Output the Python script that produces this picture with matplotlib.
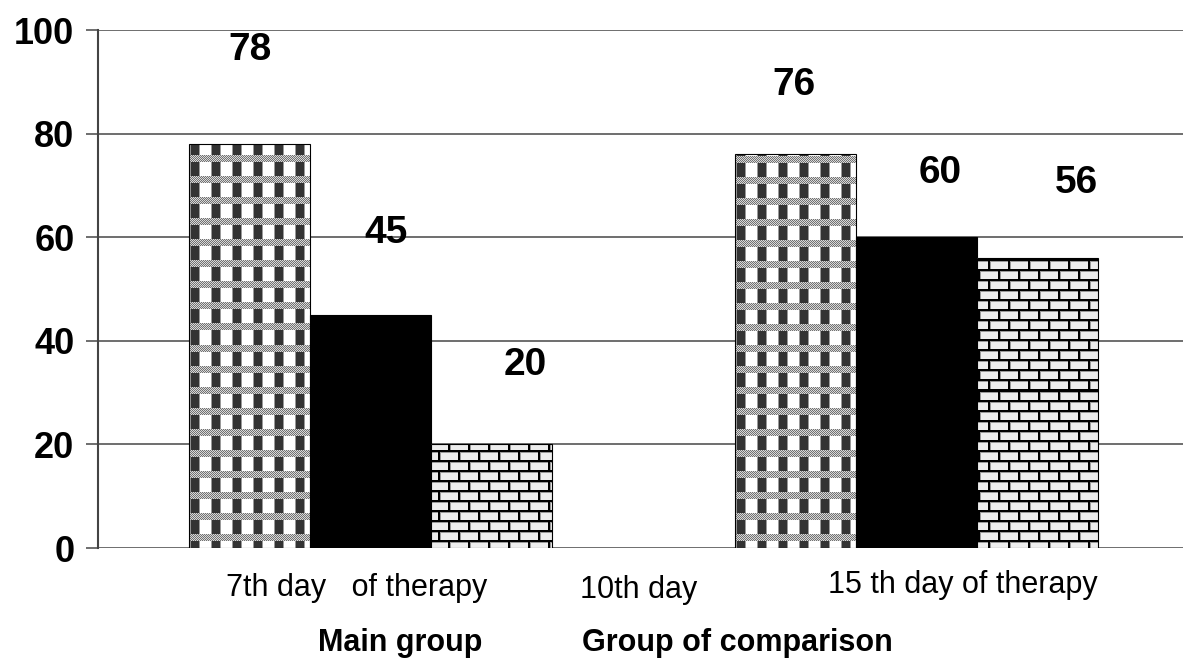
import numpy as np
import matplotlib
matplotlib.use("Agg")
import matplotlib.pyplot as plt

# data
grupos = ["Main group", "Group of comparison"]
dia7 = [78, 76]
dia10 = [45, 60]
dia15 = [20, 56]
etiquetas_x = ["7th day   of therapy", "10th day", "15 th day of therapy"]
yticks = [0, 20, 40, 60, 80, 100]

plt.rcParams["font.family"] = ["Liberation Sans", "DejaVu Sans"]

W, H = 1183, 661
fig = plt.figure(figsize=(W / 100, H / 100), dpi=100)
ax = fig.add_axes([98 / W, 1 - 548 / H, 1 - 98 / W, (548 - 30) / H])

xlim = (-0.5, 1.488)
ylim = (0, 100)
ax.set_xlim(*xlim)
ax.set_ylim(*ylim)

# texturas (en pixeles del eje)
aw, ah = int(W - 98), 548 - 30


def textura_cuadros(h, w):
    img = np.ones((h, w, 3))
    yy, xx = np.mgrid[0:h, 0:w]
    banda = (yy % 21) < 7
    dither = ((yy + xx) % 2 == 0)
    img[banda & dither] = 0.45
    img[banda & ~dither] = 0.85
    oscuro = (~banda) & ((xx % 21) >= 9) & ((xx % 21) < 17)
    img[oscuro] = 0.2
    borde = (~banda) & (((xx % 21) == 8) | ((xx % 21) == 17))
    img[borde] = 0.6
    return img


def textura_ladrillo(h, w):
    img = np.full((h, w, 3), 0.93)
    yy, xx = np.mgrid[0:h, 0:w]
    fila = yy // 10
    junta_h = (yy % 10) < 2
    desplaz = np.where(fila % 2 == 0, 0, 10)
    junta_v = ((xx + desplaz) % 20) < 2
    img[junta_h | junta_v] = 0.0
    borde = ((yy % 10) == 2) | (((xx + desplaz) % 20) == 2)
    img[borde & ~(junta_h | junta_v)] = 0.6
    return img


tex1 = textura_cuadros(ah, aw)
tex3 = textura_ladrillo(ah, aw)

x = np.arange(len(grupos))
ancho = 0.2216
series = [dia7, dia10, dia15]
offs = [-ancho, 0, ancho]

ax.yaxis.grid(True, color="#555555", linewidth=1.2, zorder=0)
ax.set_axisbelow(True)

for i, (vals, dx) in enumerate(zip(series, offs)):
    if i == 1:
        ax.bar(x + dx, vals, ancho, color="black", edgecolor="black",
               linewidth=0.8, zorder=2)
        continue
    barras = ax.bar(x + dx, vals, ancho, color="none", edgecolor="black",
                    linewidth=0.8, zorder=3)
    tex = tex1 if i == 0 else tex3
    for b in barras:
        im = ax.imshow(tex, extent=(xlim[0], xlim[1], ylim[0], ylim[1]),
                       aspect="auto", interpolation="nearest", zorder=2,
                       origin="upper")
        im.set_clip_path(b)

ax.set_xlim(*xlim)
ax.set_ylim(*ylim)

# etiquetas de valores (desplazamiento en puntos)
desp = [[(0, 68), (-1, 50)], [(11, 59), (17, 46)], [(24, 57), (28, 54)]]
for i, (vals, dx) in enumerate(zip(series, offs)):
    for j, v in enumerate(vals):
        ox, oy = desp[i][j]
        ax.annotate(str(v), (x[j] + dx, v), xytext=(ox, oy),
                    textcoords="offset points", ha="center", va="center",
                    fontsize=28, fontweight="bold")

ax.set_yticks(yticks)
ax.set_yticklabels([str(t) for t in yticks], fontsize=26, fontweight="bold")
ax.tick_params(axis="y", length=9, width=1.2, color="#555555", pad=8)
ax.set_xticks([])

for s in ["top", "right", "bottom"]:
    ax.spines[s].set_visible(False)
ax.spines["left"].set_color("#444444")
ax.spines["left"].set_linewidth(1.5)

# etiquetas de categorias
pos_x = [-0.026, 0.49, 1.085]
pos_y = [-0.077, -0.081, -0.071]
for t, px, py in zip(etiquetas_x, pos_x, pos_y):
    ax.text(px, py, t, transform=ax.get_xaxis_transform(), ha="center",
            va="center", fontsize=22)

pos_g = [0.054, 0.671]
for t, px in zip(grupos, pos_g):
    ax.text(px, -0.183, t, transform=ax.get_xaxis_transform(), ha="center",
            va="center", fontsize=22, fontweight="bold")

fig.savefig("out.png", dpi=100)
